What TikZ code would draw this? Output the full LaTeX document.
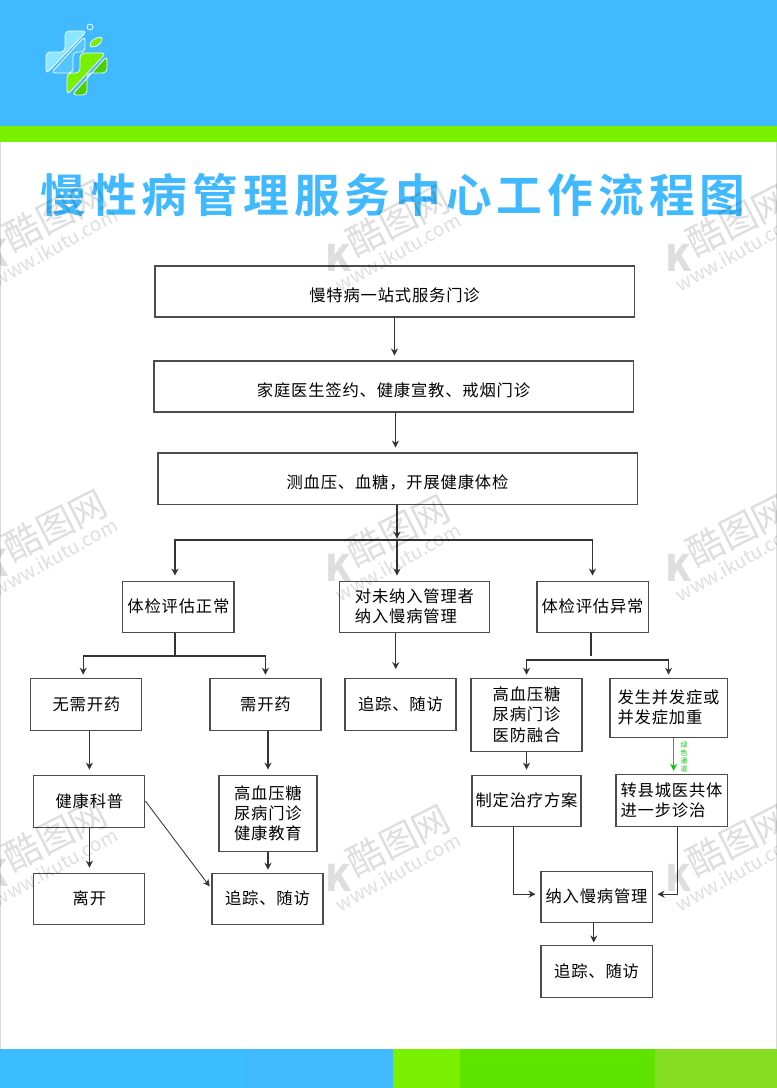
\documentclass[tikz,border=0pt]{standalone}
\usepackage{fontspec}
\setmainfont{Noto Sans CJK SC}
\newfontfamily\cjk[LetterSpace=5]{Noto Sans CJK SC}
\newfontfamily\plaincjk{Noto Sans CJK SC}
\newfontfamily\titlefont[LetterSpace=11]{Noto Sans CJK SC Bold}
\usepackage{tikz}
\usetikzlibrary{arrows.meta}
\definecolor{skyblue}{HTML}{40B9FF}
\definecolor{midblue}{HTML}{55C5FF}
\definecolor{paleblue}{HTML}{8CE6FF}
\definecolor{leafgreen}{HTML}{78F000}
\definecolor{darkgreen}{HTML}{4CD000}
\definecolor{lawngreen}{HTML}{5FE400}
\definecolor{olivegreen}{HTML}{84DD22}
\tikzstyle{box} = [rectangle, draw=black!70, line width=0.8pt, inner sep=0pt, align=center, minimum width=2.775cm, minimum height=1.275cm, font=\cjk\fontsize{11.6}{14.4}\selectfont]
\tikzstyle{wide} = [box, minimum width=11.975cm, text height=14.8pt, text depth=0pt]
\tikzstyle{boxleft} = [box, align=left]
\tikzstyle{arrow} = [line width=0.8pt, black!80, ->, >={Stealth[length=5pt,width=5pt]}, shorten >=3.5pt]
\tikzstyle{plain} = [line width=0.8pt, black!80]
\tikzstyle{logopart} = [draw=white!85!paleblue, line width=0.6pt, rounded corners=3pt]
\tikzstyle{wmark} = [text=black, text opacity=0.13, inner sep=0pt]
\begin{document}
\begin{tikzpicture}[x=0.025cm, y=-0.025cm, node distance=1.5cm]
    \useasboundingbox (0,0) rectangle (777,1088);
    % bars
    \fill [skyblue] (0,0) rectangle (777,126);
    \fill [leafgreen] (0,126) rectangle (777,142);
    \fill [skyblue!92!cyan] (0,1049) rectangle (245,1088);
    \fill [skyblue] (245,1049) rectangle (393,1088);
    \fill [leafgreen] (393,1049) rectangle (460,1088);
    \fill [lawngreen] (460,1049) rectangle (655,1088);
    \fill [olivegreen] (655,1049) rectangle (777,1088);
    \draw [black!15, line width=0.5pt] (0.3,142) -- (0.3,1049);
    \draw [black!15, line width=0.5pt] (776.7,142) -- (776.7,1049);
    % logo
    \draw [logopart, fill=paleblue] (46,74) -- (46,52) -- (65,52) -- (65,31) -- (87,31) -- cycle;
    \draw [logopart, fill=midblue] (85,36) -- (85,52) -- (73,52) -- (73,73) -- (51,73) -- cycle;
    \draw [logopart, fill=leafgreen] (67,95) -- (67,73) -- (80,73) -- (80,53) -- (106,53) -- cycle;
    \draw [logopart, fill=darkgreen] (107,56) -- (107,73) -- (87,73) -- (87,95) -- (72,95) -- cycle;
    \draw [logopart, rounded corners=0pt, fill=skyblue] (90,27) circle (3);
    \draw [logopart, fill=leafgreen, rounded corners=1pt] (90,47) .. controls (90,41) and (94,38) .. (102,37) .. controls (102,43) and (98,47) .. (90,47) -- cycle;
    % title
    \node (title) [text=skyblue, inner sep=0pt, font=\titlefont\fontsize{32.5}{33}\selectfont] at (393,195) {慢性病管理服务中心工作流程图};
    % flow
    \node (1) [wide] at (394.5,291.5) {慢特病一站式服务门诊};
    \node (2) [wide, node distance=2.375cm, below of = 1, xshift=-0.025cm] {家庭医生签约、健康宣教、戒烟门诊};
    \node (3) [wide, node distance=2.3cm, below of = 2, xshift=0.1cm] {测血压、血糖，开展健康体检};
    \node (4) [box, node distance=3.2cm, below of = 3, xshift=-5.475cm] {体检评估正常};
    \node (5) [boxleft, minimum width=3.75cm, node distance=3.2cm, below of = 3, xshift=0.425cm] {对未纳入管理者\\纳入慢病管理};
    \node (6) [box, node distance=3.2cm, below of = 3, xshift=4.875cm] {体检评估异常};
    \node (7) [box, minimum height=1.3cm, node distance=2.4375cm, below of = 4, xshift=-2.3cm] {无需开药};
    \node (8) [box, minimum height=1.3cm, node distance=2.4375cm, below of = 4, xshift=2.175cm] {需开药};
    \node (9) [box, minimum height=1.3cm, node distance=2.4375cm, below of = 5, xshift=-0.35cm] {追踪、随访};
    \node (10) [box, minimum height=1.825cm, node distance=2.7cm, below of = 6, xshift=-1.65cm] {高血压糖\\尿病门诊\\医防融合};
    \node (11) [boxleft, minimum width=2.925cm, minimum height=1.475cm, node distance=2.525cm, below of = 6, xshift=1.9cm] {发生并发症或\\并发症加重};
    \node (12) [box, minimum height=1.3cm, node distance=2.425cm, below of = 7, xshift=0.075cm] {健康科普};
    \node (13) [box, minimum width=2.45cm, minimum height=1.9cm, node distance=2.725cm, below of = 8, xshift=0.0625cm] {高血压糖\\尿病门诊\\健康教育};
    \node (14) [box, node distance=2.4375cm, below of = 12] {离开};
    \node (15) [box, node distance=2.1375cm, below of = 13, xshift=-0.0125cm] {追踪、随访};
    \node (16) [box, minimum width=2.725cm, node distance=2.15cm, below of = 10] {制定治疗方案};
    \node (17) [boxleft, minimum height=1.3cm, node distance=2.3125cm, below of = 11, xshift=0.075cm] {转县城医共体\\进一步诊治};
    \node (18) [box, node distance=2.4cm, below of = 16, xshift=1.75cm] {纳入慢病管理};
    \node (19) [box, minimum height=1.3cm, node distance=1.8625cm, below of = 18] {追踪、随访};
    \node (green) [text=green!80!black, inner sep=0pt, align=center, font=\plaincjk\fontsize{4.8}{5.7}\selectfont] at (684,757) {绿\\色\\通\\道};
    \coordinate (hub) at (397,540);
    \coordinate (hubleft) at (175,656);
    \coordinate (hubright) at (591,660);
    \coordinate (stem) at (591,656);
    \draw [arrow] (1) -- (1 |- 2.north);
    \draw [arrow] ([xshift=0.05cm]2.south) -- ([xshift=0.05cm]2.south |- 3.north);
    \draw [arrow, shorten >=1pt] (3.south -| hub) -- (hub);
    \draw [arrow] (hub) -| ([xshift=-0.0875cm]4.north);
    \draw [arrow] (hub) -- (hub |- 5.north);
    \draw [arrow] (hub) -| (6.north);
    \draw [plain] (hubleft |- 4.south) -- (hubleft);
    \draw [arrow, shorten >=2pt] (hubleft) -| ([xshift=-0.08cm]7.north);
    \draw [arrow, shorten >=2pt] (hubleft) -| (8.north);
    \draw [arrow, shorten >=6pt] ([xshift=-0.47cm]5.south) -- ([xshift=-0.47cm]5.south |- 9.north);
    \draw [plain] (stem |- 6.south) -- (stem);
    \draw [arrow, shorten >=2pt] (hubright) -| (10.north);
    \draw [arrow, shorten >=2pt] (hubright) -| (11.north);
    \draw [arrow] ([xshift=0.075cm]7.south) -- ([xshift=0.075cm]7.south |- 12.north);
    \draw [arrow] (13 |- 8.south) -- (13.north);
    \draw [arrow] (10) -- (10 |- 16.north);
    \draw [arrow, green!80!black, shorten >=2pt] ([xshift=0.125cm]11.south) -- ([xshift=0.125cm]11.south |- 17.north);
    \draw [arrow] (12) -- (12 |- 14.north);
    \draw [arrow, shorten >=2pt] (13) -- (13 |- 15.north);
    \draw [arrow, shorten >=2pt, line width=0.6pt] (12.east) -- ([yshift=0.25cm]15.west);
    \draw [arrow] ([xshift=-0.325cm]16.south) |- ([yshift=0.0625cm]18.west);
    \draw [arrow] ([xshift=0.145cm]17.south) |- ([yshift=0.0625cm]18.east);
    \draw [arrow, shorten >=1.5pt] ([xshift=-0.07cm]18.south) -- ([xshift=-0.07cm]18.south |- 19.north);
    % watermark on top
    \begin{scope}
        \clip (0,0) rectangle (777,1088);
        \foreach \wx/\dy in {55/0, 398/5, 738/5}
            \foreach \wy in {215,525,835} {
                \node (wa\wx\wy) [wmark, rotate=27, font=\plaincjk\fontsize{26}{26}\selectfont] at (\wx,\wy+\dy) {酷图网};
                \node (wb\wx\wy) [wmark, rotate=29, font=\plaincjk\fontsize{13.5}{14}\selectfont] at (\wx,\wy+\dy+32) {www.ikutu.com};
                \node (wc\wx\wy) [wmark, font=\plaincjk\bfseries\fontsize{26}{26}\selectfont] at (\wx-60,\wy+\dy+38) {K};
            }
    \end{scope}
\end{tikzpicture}
\end{document}
